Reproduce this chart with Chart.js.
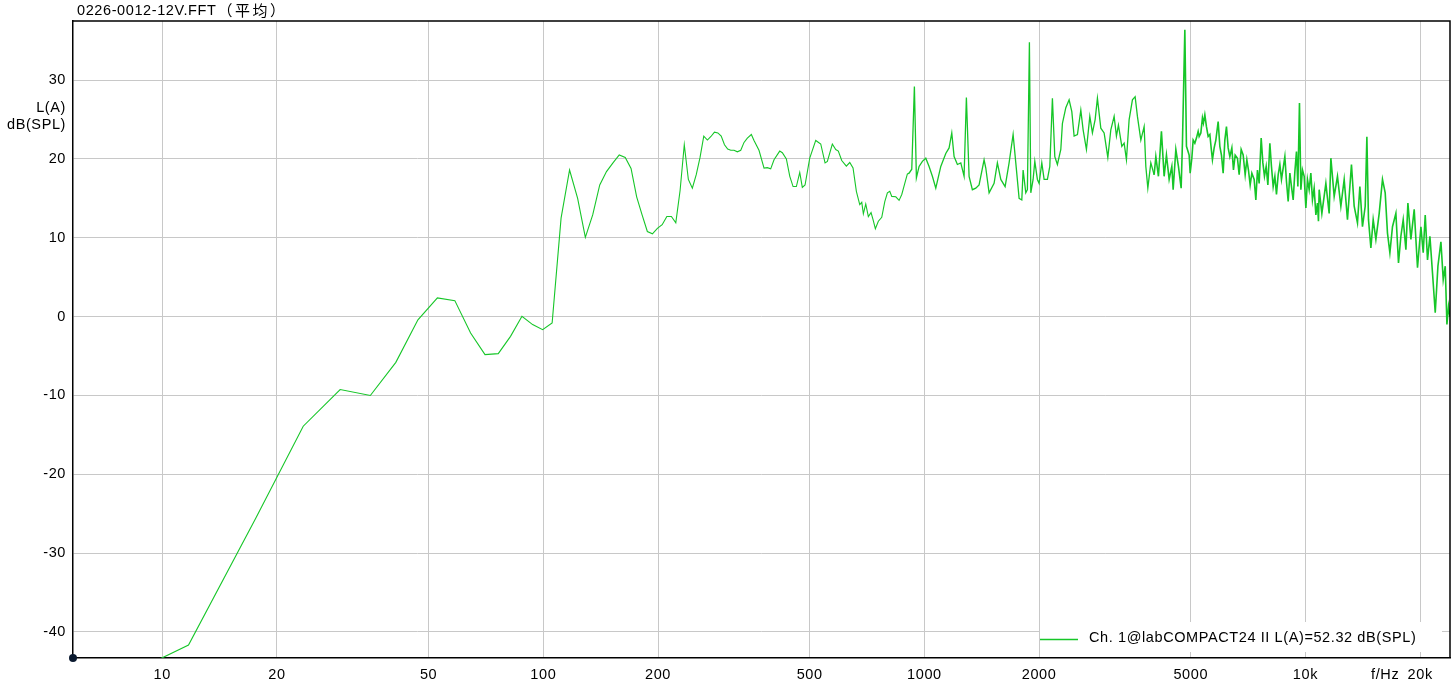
<!DOCTYPE html>
<html><head><meta charset="utf-8">
<script src="https://cdn.jsdelivr.net/npm/chart.js@4.4.1/dist/chart.umd.min.js"></script>
<style>html,body{margin:0;padding:0;background:#fff;}canvas{display:block;}</style>
</head><body>
<canvas id="c" width="1452" height="692"></canvas>
<script>
const chartTitle = "0226-0012-12V.FFT";
const chartTitleCjk = "（平均）";
const yUnitLines = ["L(A)", "dB(SPL)"];
const xUnit = "f/Hz";
const legendText = "Ch. 1@labCOMPACT24 II L(A)=52.32 dB(SPL)";
const xTickValues = [10, 20, 50, 100, 200, 500, 1000, 2000, 5000, 10000, 20000];
const xTickLabels = ["10", "20", "50", "100", "200", "500", "1000", "2000", "5000", "10k", "20k"];
const yTickValues = [-40, -30, -20, -10, 0, 10, 20, 30];
const xRange = [5.832, 23950];
const yRange = [-43.3, 37.5];

const freqHz = [
5.86,11.72,17.58,23.44,29.30,35.16,41.02,46.88,52.73,58.59,64.45,70.31,76.17,82.03,87.89,93.75,99.61,105.47,
111.33,117.19,123.05,128.91,134.77,140.63,146.48,152.34,158.20,164.06,169.92,175.78,181.64,187.50,193.36,199.22,
205.08,210.94,216.80,222.66,228.52,234.38,240.23,246.09,251.95,257.81,263.67,269.53,275.39,281.25,287.11,292.97,298.83,304.69,
310.4,316.6,323.0,329.7,336.3,343.1,351.5,357.2,368.1,379.5,387.1,395.1,403.1,417.2,423.9,434.3,443.4,452.3,461.4,470.9,478.3,486.2,
500.2,518.7,534.6,548.7,556.4,573.4,585.3,594.5,606.9,624.0,637.0,649.8,663.0,676.7,685.0,691.6,701.7,712.8,724.5,733.3,743.6,757.2,
772.9,787.2,799.7,811.3,821.1,841.3,858.2,872.3,888.3,902.4,911.7,926.6,941.4,952.9,968.5,988.0,1008.5,1028.8,1049.5,1071.3,1104.2,
1138.0,1161.0,1180.0,1196.6,1220.7,1246.0,1271.1,1288.9,1310.1,1336.4,1364.3,1391.7,1434.4,1449.2,1478.5,1523.8,1554.4,1586.8,1628.7,
1668.4,1709.3,1737.3,1772.4,1801.5,1815.8,1845.5,1863.4,1886.2,1902.2,1928.9,1948.8,1979.6,2000.1,2032.9,2061.5,2102.9,2133.7,2167.5,
2199.1,2233.9,2280.3,2302.5,2350.4,2397.8,2437.1,2471.3,2521.0,2573.4,2609.6,2662.1,2717.2,2760.2,2805.9,2845.0,2904.0,2962.6,3029.6,
3085.0,3147.2,3191.3,3230.0,3296.9,3343.3,3390.1,3445.8,3515.1,3573.2,3622.9,3698.2,3772.8,3811.7,3858.1,3928.5,4007.9,4049.2,4113.3,
4188.6,4257.5,4317.1,4388.2,4460.2,4495.7,4569.4,4641.8,4718.4,4755.2,4824.8,4871.9,4952.0,4982.2,5033.2,5073.3,5125.3,5175.4,5228.9,
5260.5,5314.7,5366.2,5398.8,5444.7,5497.8,5554.7,5611.7,5656.4,5700.5,5759.8,5819.1,5900.9,5961.3,6019.5,6081.8,6144.2,6204.2,6268.4,
6332.8,6409.7,6472.2,6539.5,6630.4,6699.2,6780.9,6863.3,6946.9,7018.0,7086.4,7160.0,7233.3,7334.9,7410.5,7482.3,7560.0,7652.2,7730.9,
7805.9,7887.0,7968.0,8064.6,8143.3,8227.7,8312.2,8393.3,8480.2,8567.1,8650.7,8740.3,8829.9,8916.1,9008.4,9101.0,9189.8,9284.9,9380.1,
9471.7,9552.0,9644.7,9726.6,9820.9,9922.9,10025,10122,10226,10331,10432,10540,10649,10752,10817,10864,11042,11312,11540,11659,11895,
12134,12385,12636,12890,13205,13423,13693,13893,14113,14347,14494,14635,14848,15057,15304,15613,15927,16190,16415,16656,16919,17271,
17545,17800,18051,18347,18570,18911,19292,19680,20090,20372,20620,20907,21213,21549,21906,22265,22671,22990,23270,23508,23737,23940
];
const levelDb = [
-48.7,-41.66,-25.6,-13.9,-9.25,-10.0,-5.8,-0.4,2.37,2.03,-2.07,-4.82,-4.69,-2.5,0.04,-1.01,-1.65,-0.8,
12.5,18.6,15.0,10.05,12.9,16.7,18.4,19.5,20.5,20.2,18.8,15.2,12.9,10.8,10.5,11.2,
11.66,12.7,12.7,11.9,16.0,21.8,17.4,16.3,18.0,20.2,22.9,22.4,22.85,23.4,23.3,22.9,21.8,21.25,
21.1,21.1,20.9,21.1,22.1,22.65,23.1,22.35,21.1,18.85,18.9,18.75,19.9,21.0,20.8,20.0,17.8,16.5,16.5,18.3,16.4,16.7,
20.1,22.35,21.9,19.5,19.7,21.9,21.2,21.0,19.8,19.1,19.55,18.85,15.9,14.2,14.5,13.05,14.3,12.7,13.2,12.3,11.15,12.1,
12.6,14.6,15.7,15.9,15.25,15.2,14.75,15.5,16.9,18.1,18.2,18.7,29.2,17.6,19.05,19.7,20.1,19.05,17.8,16.3,19.05,
20.7,21.4,23.3,20.3,19.3,19.5,17.8,27.8,17.8,16.1,16.3,16.7,19.9,18.85,15.7,16.9,19.5,17.4,16.5,
19.5,23.1,19.5,15.0,14.8,18.6,15.7,16.1,34.8,15.7,17.4,19.7,17.4,16.9,19.5,17.4,17.4,19.05,27.7,
20.3,19.3,21.2,24.5,26.5,27.5,26.0,22.9,23.1,26.2,23.7,21.2,25.4,23.3,25.0,27.7,23.9,23.3,20.2,
23.7,25.4,22.9,24.3,21.6,22.0,19.9,25.0,27.5,27.9,25.4,22.4,24.1,19.05,16.3,19.5,18.0,20.3,17.8,
23.5,17.8,20.5,17.4,19.05,16.1,21.2,19.05,16.3,22.0,36.4,21.6,20.5,18.2,20.1,22.4,22.0,22.65,23.5,
22.85,23.3,25.2,24.55,25.6,24.1,22.85,23.1,21.4,19.9,21.4,22.4,24.75,21.6,20.5,18.2,22.4,24.1,21.4,
20.3,21.4,18.6,20.5,20.1,18.0,21.2,20.5,18.0,19.9,18.6,16.7,18.2,17.4,14.8,18.6,16.9,22.65,19.5,
17.8,19.05,16.7,22.0,19.05,16.5,17.8,15.5,18.0,19.3,17.4,18.85,20.3,17.15,14.6,18.2,16.5,14.8,18.4,
20.95,16.5,27.1,16.1,18.6,17.8,13.8,17.4,16.1,18.2,14.8,16.3,12.9,14.4,12.1,16.1,13.1,16.9,13.1,20.1,15.25,
17.8,14.0,17.4,12.3,19.3,14.0,11.9,16.5,11.4,14.0,22.8,12.3,8.7,12.3,9.8,13.1,17.4,15.7,10.6,8.1,11.4,13.1,
6.8,10.2,12.3,8.5,14.4,9.8,13.6,6.2,11.4,8.1,12.9,7.2,10.2,5.5,0.5,6.4,9.5,4.7,6.4,-1.0,1.3,0.0
];

const lineColor = 'rgb(22,198,40)';
const FAMILY = '"Liberation Sans", Arial, sans-serif';
const FSIZE = 14.5;
const SPACING = '0.6px';
const FONT = FSIZE + 'px ' + FAMILY;

const spacingPlugin = {
  id: 'spacing',
  beforeDraw(chart) { chart.ctx.letterSpacing = SPACING; }
};

const decor = {
  id: 'decor',
  afterDraw(chart) {
    const c = chart.ctx, a = chart.chartArea;
    const xs = chart.scales.x;
    c.save();
    c.letterSpacing = SPACING;
    // frame
    c.strokeStyle = '#000'; c.lineWidth = 1.5;
    c.beginPath();
    c.moveTo(a.left, a.top); c.lineTo(a.right, a.top); c.lineTo(a.right, a.bottom);
    c.stroke();
    // title
    c.fillStyle = '#000'; c.font = FONT; c.textAlign = 'left'; c.textBaseline = 'alphabetic';
    c.fillText(chartTitle, a.left + 4, 15);
    const w = c.measureText(chartTitle).width;
    c.letterSpacing = '2.5px';
    c.font = '15px "Noto Sans CJK SC", "Noto Sans CJK JP", sans-serif';
    c.fillText(chartTitleCjk, a.left + 5 + w, 15.5);
    c.letterSpacing = SPACING;
    c.font = FONT;
    // y unit
    c.textAlign = 'right'; c.textBaseline = 'middle';
    c.fillText(yUnitLines[0], a.left - 7, 107.5);
    c.fillText(yUnitLines[1], a.left - 7, 124.5);
    // x unit
    c.textAlign = 'center'; c.textBaseline = 'alphabetic';
    c.fillText(xUnit, xs.getPixelForValue(xTickValues[xTickValues.length - 1]) - 35, 679);
    // legend box
    c.fillStyle = '#fff';
    c.fillRect(a.left + 967, a.bottom - 36, 402, 30);
    c.strokeStyle = lineColor; c.lineWidth = 1.3;
    c.beginPath(); c.moveTo(a.left + 967, a.bottom - 18.5); c.lineTo(a.left + 1005, a.bottom - 18.5); c.stroke();
    c.fillStyle = '#000'; c.textAlign = 'left'; c.textBaseline = 'middle';
    c.fillText(legendText, a.left + 1016, a.bottom - 20);
    // origin dot
    c.fillStyle = '#0b1a30';
    c.beginPath(); c.arc(a.left, a.bottom, 4, 0, Math.PI * 2); c.fill();
    c.restore();
  }
};

new Chart(document.getElementById('c'), {
  type: 'line',
  data: {
    datasets: [{
      data: freqHz.map((f, i) => ({ x: f, y: levelDb[i] })),
      borderColor: lineColor,
      borderWidth: 1.1,
      segment: { borderWidth: ctx => (ctx.p0.parsed.x > 4000 ? 1.6 : (ctx.p0.parsed.x > 900 ? 1.3 : 1.1)) },
      pointRadius: 0,
      tension: 0,
      fill: false
    }]
  },
  options: {
    responsive: false,
    animation: false,
    devicePixelRatio: 1,
    layout: { padding: { top: 21, right: 2, left: 0, bottom: 0 } },
    plugins: { legend: { display: false }, tooltip: { enabled: false }, title: { display: false } },
    scales: {
      x: {
        type: 'logarithmic',
        min: xRange[0], max: xRange[1],
        afterBuildTicks: s => { s.ticks = xTickValues.map(v => ({ value: v })); },
        afterFit: s => { s.height = 34; },
        ticks: {
          autoSkip: false, maxRotation: 0, minRotation: 0,
          color: '#000', font: { family: FAMILY, size: FSIZE },
          padding: 8,
          callback: (v, i) => xTickLabels[i]
        },
        grid: { color: '#c8c8c8', lineWidth: 1, drawTicks: false },
        border: { color: '#000', width: 1.5 }
      },
      y: {
        min: yRange[0], max: yRange[1],
        afterBuildTicks: s => { s.ticks = yTickValues.map(v => ({ value: v })); },
        afterFit: s => { s.width = 73; },
        ticks: {
          color: '#000', font: { family: FAMILY, size: FSIZE },
          padding: 7,
          callback: v => String(v)
        },
        grid: { color: '#c8c8c8', lineWidth: 1, drawTicks: false },
        border: { color: '#000', width: 1.5 }
      }
    }
  },
  plugins: [spacingPlugin, decor]
});
</script>
</body></html>
